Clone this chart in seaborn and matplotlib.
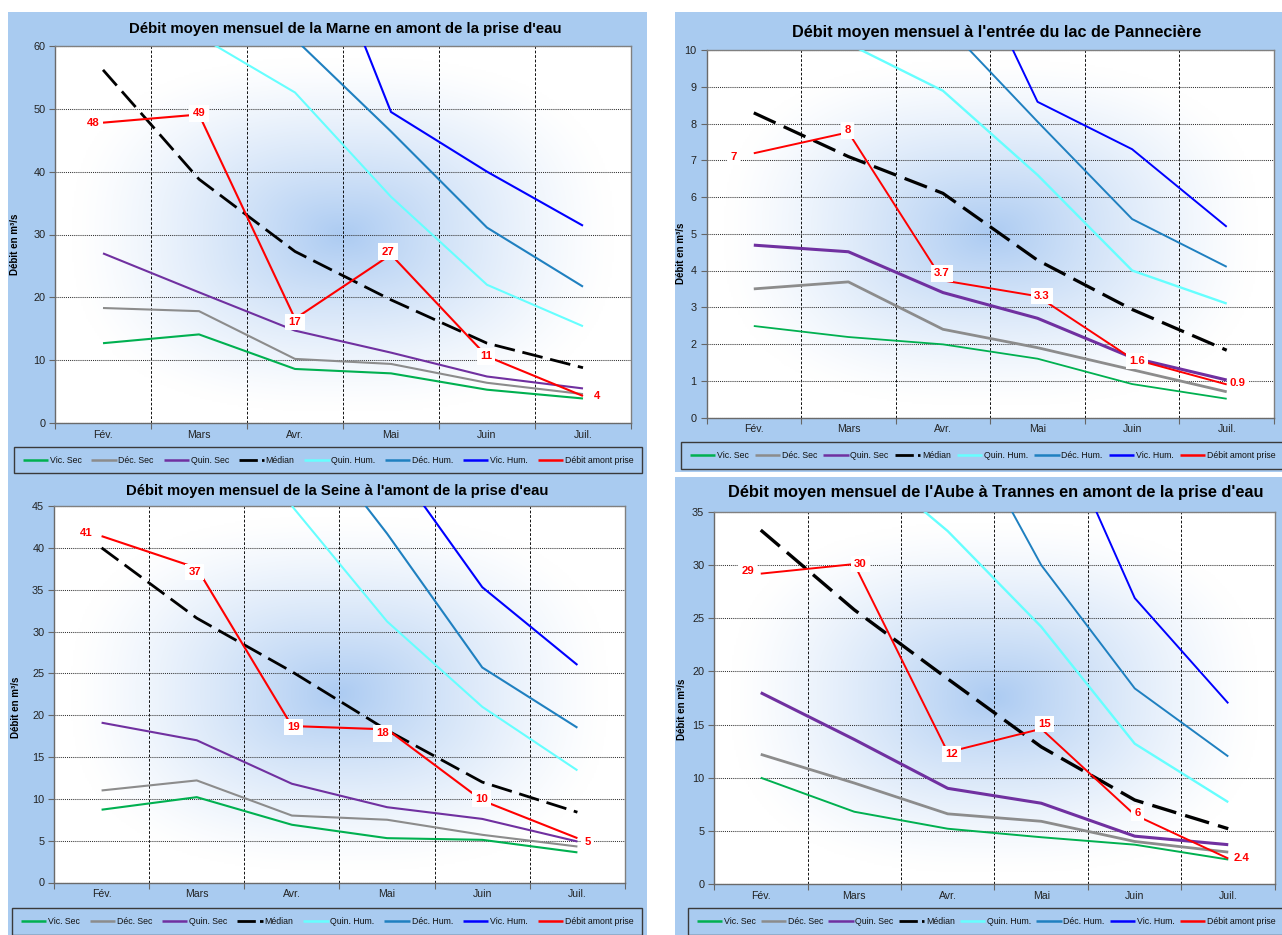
import numpy as np
import pandas as pd
import matplotlib
matplotlib.use("Agg")
import matplotlib.pyplot as plt
import seaborn as sns
from matplotlib import font_manager
from matplotlib.patches import Rectangle
from matplotlib.lines import Line2D

sns.set_theme(style="white")
_names = {f.name for f in font_manager.fontManager.ttflist}
NARROW = "Liberation Sans Narrow" in _names
BASE = "Liberation Sans Narrow" if NARROW else "Liberation Sans"
K = 1.12 if NARROW else 1.0
plt.rcParams["font.family"] = [BASE, "DejaVu Sans"]

nan = np.nan

# ---------------- data ----------------
months = ["Fév.", "Mars", "Avr.", "Mai", "Juin", "Juil."]
series_names = ["Vic. Sec", "Déc. Sec", "Quin. Sec", "Médian",
                "Quin. Hum.", "Déc. Hum.", "Vic. Hum.", "Débit amont prise"]

# Marne
marne_vic_sec = [12.7, 14.1, 8.6, 7.9, 5.3, 3.9]
marne_dec_sec = [18.3, 17.8, 10.2, 9.4, 6.4, 4.6]
marne_quin_sec = [27.0, 20.8, 14.7, 11.2, 7.4, 5.5]
marne_median = [56.2, 38.8, 27.3, 19.6, 12.7, 8.8]
marne_quin_hum = [nan, 61.6, 52.6, 36.0, 22.0, 15.4]
marne_dec_hum = [nan, nan, 61.1, 46.4, 31.1, 21.7]
marne_vic_hum = [nan, nan, 88.0, 49.5, 40.0, 31.4]
marne_debit = [47.8, 49.1, 16.6, 26.8, 10.6, 4.3]
marne_labels = ["48", "49", "17", "27", "11", "4"]

# Pannecière
pann_vic_sec = [2.49, 2.19, 1.99, 1.60, 0.91, 0.51]
pann_dec_sec = [3.50, 3.69, 2.40, 1.90, 1.30, 0.70]
pann_quin_sec = [4.69, 4.51, 3.40, 2.70, 1.63, 1.02]
pann_median = [8.29, 7.10, 6.10, 4.28, 2.94, 1.83]
pann_quin_hum = [nan, 10.17, 8.89, 6.60, 4.00, 3.10]
pann_dec_hum = [nan, nan, 10.76, 8.05, 5.40, 4.10]
pann_vic_hum = [nan, nan, 14.0, 8.59, 7.30, 5.19]
pann_debit = [7.19, 7.76, 3.73, 3.30, 1.60, 0.90]
pann_labels = ["7", "8", "3.7", "3.3", "1.6", "0.9"]

# Seine
seine_vic_sec = [8.7, 10.2, 6.9, 5.3, 5.1, 3.6]
seine_dec_sec = [11.0, 12.2, 8.0, 7.5, 5.7, 4.3]
seine_quin_sec = [19.1, 17.0, 11.8, 9.0, 7.6, 4.9]
seine_median = [40.0, 31.6, 25.2, 18.2, 12.0, 8.4]
seine_quin_hum = [nan, nan, 45.0, 31.2, 21.0, 13.4]
seine_dec_hum = [nan, nan, 56.4, 41.7, 25.7, 18.5]
seine_vic_hum = [nan, nan, nan, 51.2, 35.3, 26.0]
seine_debit = [41.4, 37.6, 18.7, 18.3, 9.8, 5.3]
seine_labels = ["41", "37", "19", "18", "10", "5"]

# Aube
aube_vic_sec = [10.0, 6.8, 5.2, 4.4, 3.7, 2.3]
aube_dec_sec = [12.2, 9.5, 6.6, 5.9, 4.0, 3.0]
aube_quin_sec = [18.0, 13.6, 9.0, 7.6, 4.5, 3.7]
aube_median = [33.3, 25.8, 19.3, 12.9, 7.9, 5.2]
aube_quin_hum = [nan, 40.6, 33.2, 24.2, 13.2, 7.7]
aube_dec_hum = [nan, nan, 46.1, 30.0, 18.4, 12.0]
aube_vic_hum = [nan, nan, nan, 46.7, 26.9, 17.0]
aube_debit = [29.2, 30.1, 12.4, 14.6, 6.5, 2.4]
aube_labels = ["29", "30", "12", "15", "6", "2.4"]

titles = ["Débit moyen mensuel de la Marne en amont de la prise d'eau",
          "Débit moyen mensuel à l'entrée du lac de Pannecière",
          "Débit moyen mensuel de la Seine à l'amont de la prise d'eau",
          "Débit moyen mensuel de l'Aube à Trannes en amont de la prise d'eau"]
y_max = [60, 10, 45, 35]
y_step = [10, 1, 5, 5]

# ---------------- style / layout ----------------
W, H = 1282, 935
BLUE = "#A9CBF0"
colors = ["#00B050", "#8C8C8C", "#7030A0", "#000000",
          "#66FFFF", "#1F80C0", "#0000FF", "#FF0000"]

def fx(x):
    return x / W

def fy(y):
    return 1 - y / H

layout = [
    dict(ax=(55, 46, 631, 423), title=(345, 29, 433), ylab=(15, 244),
         leg=(14, 447, 642, 476),
         lw=[1.5, 1.5, 1.5, 2.0, 1.5, 1.5, 1.5, 1.5],
         off=[(-10, 0), (0, 1), (0, -3), (-3, 3), (-1, 0), (14, 0)]),
    dict(ax=(706.5, 50, 1274, 417.5), title=(997, 33, 409), ylab=(681, 253),
         leg=(681, 442, 1284, 470),
         lw=[1.3, 2.0, 2.2, 2.3, 1.7, 1.4, 1.4, 1.4],
         off=[(-20, -4), (-1, 2), (-1, 7), (4.5, 0), (4.5, -2), (11, 1)]),
    dict(ax=(54, 506, 625, 882.5), title=(337, 491, 424), ylab=(16, 707),
         leg=(12, 908, 642, 938),
         lw=[1.5, 1.5, 1.5, 2.0, 1.5, 1.5, 1.5, 1.5],
         off=[(-15, 3), (-2, -4), (1.5, -1), (-4.5, -4), (-1, 2), (10, -4)]),
    dict(ax=(714, 512, 1275, 884), title=(996, 492, 534), ylab=(682, 709),
         leg=(688, 908, 1284, 938),
         lw=[1.4, 2.0, 2.2, 2.4, 1.7, 1.4, 1.4, 1.4],
         off=[(-13, 3), (6, 0), (4, -2), (3, 5), (3, 2), (13.5, 0)]),
]

panel_data = [
    [marne_vic_sec, marne_dec_sec, marne_quin_sec, marne_median,
     marne_quin_hum, marne_dec_hum, marne_vic_hum, marne_debit],
    [pann_vic_sec, pann_dec_sec, pann_quin_sec, pann_median,
     pann_quin_hum, pann_dec_hum, pann_vic_hum, pann_debit],
    [seine_vic_sec, seine_dec_sec, seine_quin_sec, seine_median,
     seine_quin_hum, seine_dec_hum, seine_vic_hum, seine_debit],
    [aube_vic_sec, aube_dec_sec, aube_quin_sec, aube_median,
     aube_quin_hum, aube_dec_hum, aube_vic_hum, aube_debit],
]
panel_labels = [marne_labels, pann_labels, seine_labels, aube_labels]

fig = plt.figure(figsize=(W / 100, H / 100), dpi=100, facecolor="white")

# chart-area backgrounds
for (x0, y0, x1, y1) in [(8, 12, 646.7, 935), (675, 12, 1282, 472), (675, 477, 1282, 935)]:
    fig.add_artist(Rectangle((fx(x0), fy(y1)), (x1 - x0) / W, (y1 - y0) / H,
                             transform=fig.transFigure, facecolor=BLUE,
                             edgecolor="none", zorder=0))

# gradient for plot areas
gy, gx = np.mgrid[0:1:240j, 0:1:320j]
dist = ((np.abs(gx - 0.5) / 0.47) ** 2.6 + (np.abs(gy - 0.5) / 0.47) ** 2.6) ** (1 / 2.6)
inten = np.clip(1 - dist, 0, 1) ** 1.3
center = np.array([172, 203, 242]) / 255.0
grad = 1 - inten[..., None] * (1 - center)

title_texts = []
xs = np.arange(len(months))
for p in range(4):
    L = layout[p]
    l, t, r, b = L["ax"]
    ax = fig.add_axes([fx(l), fy(b), (r - l) / W, (b - t) / H])
    ax.set_facecolor("white")
    ax.imshow(grad, extent=(0, 1, 0, 1), transform=ax.transAxes,
              aspect="auto", zorder=0.1, interpolation="bilinear")

    handles = []
    for i, vals in enumerate(panel_data[p]):
        df = pd.DataFrame({"mois": xs, "debit": vals})
        sns.lineplot(data=df, x="mois", y="debit", ax=ax, color=colors[i],
                     linewidth=L["lw"][i], estimator=None, zorder=3 + (i == 7))
        ln = ax.lines[-1]
        ln.set_label(series_names[i])
        ln.set_solid_capstyle("butt")
        if i == 3:
            ln.set_dashes((7.5, 2.8))
            ln.set_dash_capstyle("butt")
            h = Line2D([], [], color=colors[i], lw=2.0, dashes=(6.6, 1.5),
                       dash_capstyle="butt")
        else:
            h = Line2D([], [], color=colors[i], lw=1.8, solid_capstyle="butt")
        handles.append(h)

    # red data labels
    for i, (v, lab) in enumerate(zip(panel_data[p][7], panel_labels[p])):
        ax.annotate(lab, xy=(xs[i], v), xytext=L["off"][i], textcoords="offset pixels",
                    ha="center", va="center", color="#FF0000", fontsize=8.2 * K,
                    fontweight="bold", zorder=6,
                    bbox=dict(boxstyle="square,pad=0.28", fc="white", ec="none"))

    ax.set_xlim(-0.5, len(months) - 0.5)
    ax.set_ylim(0, y_max[p])
    ax.set_xlabel("")
    ax.set_ylabel("")
    ax.set_xticks(xs)
    ax.set_xticklabels(months)
    ax.set_xticks(np.arange(-0.5, len(months), 1.0), minor=True)
    yt = np.arange(0, y_max[p] + y_step[p] / 2, y_step[p])
    ax.set_yticks(yt)
    ax.set_yticklabels([f"{v:g}" for v in yt])
    ax.tick_params(axis="x", which="major", length=0, pad=5, labelsize=7.6 * K,
                   colors="#222222")
    ax.tick_params(axis="x", which="minor", length=4, width=0.8, direction="out",
                   color="#666666", bottom=True)
    ax.tick_params(axis="y", which="major", length=4, width=0.8, direction="out",
                   pad=3, labelsize=7.8 * K, colors="#222222", left=True)
    ax.tick_params(axis="y", colors="#666666", labelcolor="#222222")

    ax.set_axisbelow(True)
    ax.grid(False)
    ax.yaxis.grid(True, which="major", color="#333333", linestyle=(0, (1, 1)), lw=0.75)
    ax.xaxis.grid(True, which="minor", color="#000000", linestyle=(0, (3, 2)), lw=0.65)
    for side, sp in ax.spines.items():
        sp.set_visible(True)
        sp.set_color("#808080")
        sp.set_linewidth(1.0)
    ax.spines["left"].set_color("#6a6a6a")
    ax.spines["bottom"].set_color("#6a6a6a")

    # legend
    x0, y0, x1, y1 = L["leg"]
    leg = ax.legend(handles=handles, labels=series_names, loc="upper left",
                    bbox_to_anchor=(fx(x0), fy(y1), (x1 - x0) / W, (y1 - y0) / H),
                    bbox_transform=fig.transFigure, mode="expand", ncol=8,
                    fontsize=6.3 * K, handlelength=2.9, handletextpad=0.2,
                    columnspacing=0.3, borderpad=1.0, borderaxespad=0,
                    frameon=True, fancybox=False, framealpha=1)
    fr = leg.get_frame()
    fr.set_facecolor(BLUE)
    fr.set_edgecolor("#3a3a3a")
    fr.set_linewidth(1.0)
    for txt in leg.get_texts():
        txt.set_color("#111111")

    # title and y label
    cx, cy, tw = L["title"]
    tt = fig.text(fx(cx), fy(cy), titles[p], ha="center", va="center",
                  fontsize=12, fontweight="bold", color="#000000")
    title_texts.append((tt, tw))
    lx, ly = L["ylab"]
    fig.text(fx(lx), fy(ly), "Débit en m³/s", rotation=90, ha="center", va="center",
             fontsize=7.0, fontweight="bold", color="#000000",
             family=["Liberation Sans", "DejaVu Sans"])

# fit title widths to the reference
renderer = fig.canvas.get_renderer()
for tt, tw in title_texts:
    w = tt.get_window_extent(renderer).width
    tt.set_fontsize(tt.get_fontsize() * tw / w)

fig.savefig("out.png", dpi=100, facecolor="white")
